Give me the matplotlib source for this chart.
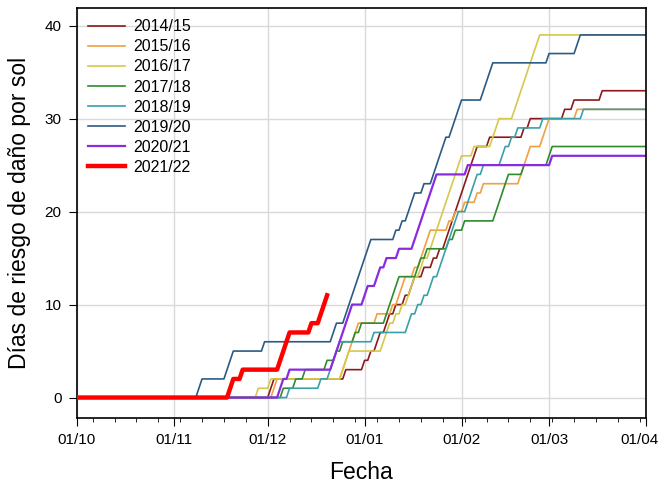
import numpy as np
import pandas as pd
import matplotlib
matplotlib.use('Agg')
import matplotlib.pyplot as plt
import matplotlib.dates as mdates
import matplotlib.transforms as mtransforms

plt.rcParams['font.family'] = ['Liberation Sans', 'DejaVu Sans']

# risk days per season, as days counted from 1 October
seasons = ['2014/15', '2015/16', '2016/17', '2017/18', '2018/19', '2019/20', '2020/21', '2021/22']
colors = ['#8b1a1a', '#f0a040', '#d4c94a', '#2e8b2e', '#3aa0a8', '#2b5b84', '#8a2be2', '#ff0000']

days_1415 = [62, 63, 86, 92, 94, 96, 97, 99, 100, 102, 105, 107, 108, 111, 114, 116, 118, 119,
             120, 121, 122, 123, 124, 125, 126, 127, 128, 132, 143, 145, 156, 159, 168]
days_1516 = [63, 64, 85, 86, 87, 88, 89, 90, 96, 101, 103, 104, 105, 108, 110, 111, 112, 113,
             119, 121, 124, 128, 130, 142, 143, 144, 145, 149, 150, 151, 160]
days_1617 = [58, 62, 85, 86, 87, 98, 99, 100, 102, 104, 106, 107, 108, 110, 111, 113, 114, 115,
             116, 117, 118, 119, 120, 121, 122, 123, 127, 133, 134, 135, 140, 141, 142, 143,
             144, 145, 146, 147, 148]
days_1718 = [66, 70, 73, 80, 83, 85, 89, 91, 99, 100, 101, 102, 103, 109, 110, 112, 119, 121,
             124, 134, 135, 136, 137, 138, 143, 151, 152]
days_1819 = [68, 78, 81, 82, 83, 84, 95, 106, 107, 109, 111, 113, 114, 116, 117, 118, 119, 120,
             121, 122, 125, 126, 127, 128, 130, 136, 137, 139, 141, 149, 162]
days_1920 = [39, 40, 48, 49, 50, 60, 82, 83, 86, 87, 88, 89, 90, 91, 92, 93, 94, 102, 104, 106,
             107, 108, 111, 114, 115, 116, 117, 118, 120, 121, 122, 123, 130, 131, 132, 133,
             151, 160, 161]
days_2021 = [65, 66, 68, 82, 83, 84, 85, 86, 87, 88, 92, 93, 96, 97, 99, 103, 108, 109, 110,
             111, 112, 113, 114, 115, 125, 152]
days_2122 = [49, 50, 53, 65, 66, 67, 68, 75, 78, 79, 80]

risk_days = [days_1415, days_1516, days_1617, days_1718, days_1819, days_1920, days_2021, days_2122]
last_day = [182, 182, 182, 182, 182, 182, 182, 80]

start = pd.Timestamp('2021-10-01')

fig, ax = plt.subplots(figsize=(6.62, 4.87), dpi=100)
fig.subplots_adjust(left=.1163, right=.9758, top=.9836, bottom=.1417)

for name, col, rd, last in zip(seasons, colors, risk_days, last_day):
    d = np.arange(0, last + 1)
    n = np.searchsorted(np.array(rd), d, side='right')
    x = start + pd.to_timedelta(d, unit='D')
    lw = 3.2 if name == '2021/22' else 1.2
    if name == '2020/21':
        lw = 1.6
    ax.plot(x, n, color=col, lw=lw, label=name, zorder=3 if name == '2021/22' else 2)

ax.set_xlim(start, pd.Timestamp('2022-04-01'))
ax.set_ylim(-2.2, 41.9)
ax.xaxis.set_major_locator(mdates.MonthLocator())
ax.xaxis.set_major_formatter(mdates.DateFormatter('%d/%m'))
ax.xaxis.set_minor_locator(mdates.WeekdayLocator(byweekday=mdates.WE))
ax.set_yticks([0, 10, 20, 30, 40])
ax.grid(True, which='major', color='#d9d9d9', lw=1)
ax.set_axisbelow(True)
ax.tick_params(axis='both', which='major', direction='out', length=6, labelsize=11, pad=5)
ax.tick_params(axis='x', which='minor', direction='out', length=3)
for s in ax.spines.values():
    s.set_linewidth(1.2)

ax.set_xlabel('Fecha', fontsize=16.5, labelpad=10)
ax.set_ylabel('Días de riesgo de daño por sol', fontsize=16.5, labelpad=10)

ax.legend(loc='upper left', frameon=False, fontsize=11.5, handlelength=2.3,
          handletextpad=0.5, labelspacing=0.32, borderaxespad=0.3,
          bbox_to_anchor=(0.0, 1.0))

# keep the last date label inside the figure
fig.canvas.draw()
last_lbl = ax.get_xticklabels()[-1]
last_lbl.set_transform(last_lbl.get_transform() +
                       mtransforms.ScaledTranslation(-5 / 72, 0, fig.dpi_scale_trans))

plt.savefig('out.png', dpi=100)
plt.close('all')
